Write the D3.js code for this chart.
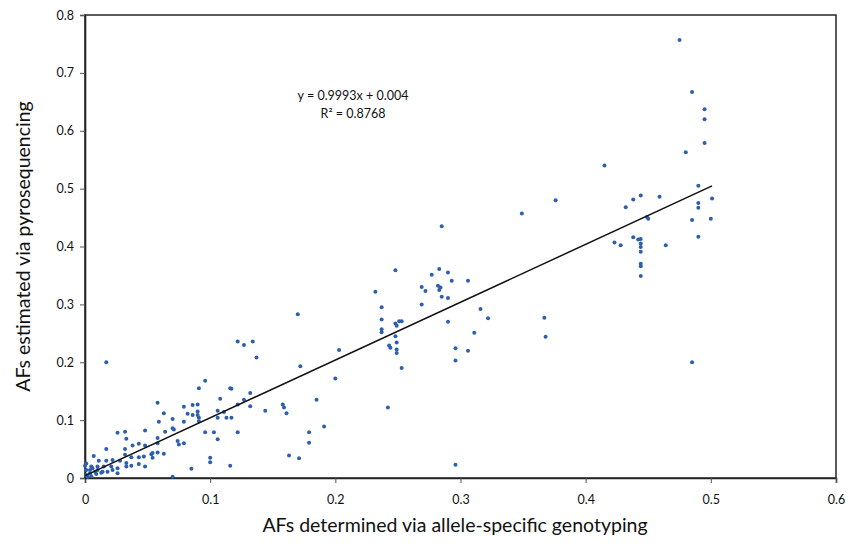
<!DOCTYPE html>
<html>
<head>
<meta charset="utf-8">
<script src="https://cdn.jsdelivr.net/npm/d3@7/dist/d3.min.js"></script>
<style>
  html, body { margin: 0; padding: 0; background: #fff; }
  svg { display: block; }
  text { font-family: Lato, "Open Sans", sans-serif; fill: #111; }
</style>
</head>
<body>
<svg id="chart" width="850" height="550"></svg>
<script>
// AFs determined via allele-specific genotyping (x)
const afGenotyping = [
  0.026,0.032,0.048,0.033,0.017,0.032,0.038,0.043,0.048,0.053,0.007,0.032,0.037,0.043,0.047,
  0.011,0.017,0.022,0.028,0.033,0.037,0.043,0.048,0.000,0.005,0.010,0.015,0.021,0.026,0.033,
  0.001,0.004,0.006,0.010,0.014,0.018,0.022,0.026,0.001,0.004,0.008,0.005,0.002,0.009,0.013,
  0.001,0.017,
  0.058,0.063,0.096,0.091,0.108,0.116,0.079,0.086,0.090,0.082,0.086,0.090,0.090,0.091,0.091,
  0.070,0.059,0.079,0.106,0.111,0.106,0.113,0.117,0.064,0.070,0.071,0.096,0.103,0.106,0.058,
  0.058,0.074,0.075,0.079,0.054,0.054,0.058,0.063,0.100,0.100,0.085,0.116,0.070,0.122,
  0.122,0.127,0.134,0.137,0.203,0.172,0.117,0.132,0.200,0.127,0.122,0.132,0.144,0.158,0.159,
  0.161,0.185,0.191,0.179,0.179,0.163,0.171,
  0.170,0.248,0.232,0.237,0.237,0.237,0.237,0.248,0.251,0.253,0.249,0.248,0.249,0.243,0.244,
  0.249,0.249,0.253,0.242,0.269,0.272,0.269,0.277,0.283,0.290,0.293,0.282,0.284,0.283,0.285,
  0.290,0.306,0.290,0.316,0.322,0.311,0.296,0.306,0.296,0.296,0.285,0.349,0.376,0.367,0.368,
  0.415,
  0.423,0.428,0.432,0.438,0.444,0.438,0.442,0.444,0.444,0.444,0.444,0.444,0.444,0.444,0.449,
  0.450,0.459,0.464,0.475,0.480,0.485,0.495,0.495,0.495,0.490,0.501,0.490,0.490,0.485,0.500,
  0.490,0.485
];
// AFs estimated via pyrosequencing (y)
const afPyro = [
  0.078,0.080,0.082,0.068,0.050,0.050,0.056,0.059,0.056,0.041,0.038,0.040,0.036,0.036,0.037,
  0.030,0.030,0.031,0.030,0.026,0.021,0.024,0.020,0.021,0.020,0.020,0.020,0.020,0.017,0.020,
  0.014,0.014,0.017,0.014,0.011,0.011,0.014,0.008,0.005,0.008,0.011,0.003,0.002,0.007,0.009,
  0.025,0.200,
  0.130,0.112,0.168,0.155,0.137,0.155,0.123,0.126,0.127,0.111,0.109,0.115,0.109,0.104,0.098,
  0.102,0.097,0.097,0.116,0.114,0.104,0.104,0.104,0.080,0.086,0.084,0.079,0.079,0.067,0.069,
  0.060,0.064,0.058,0.060,0.043,0.035,0.044,0.042,0.035,0.027,0.016,0.021,0.002,0.079,
  0.236,0.230,0.236,0.208,0.221,0.193,0.154,0.147,0.172,0.135,0.127,0.124,0.116,0.127,0.122,
  0.112,0.135,0.089,0.079,0.061,0.039,0.034,
  0.283,0.359,0.322,0.295,0.274,0.257,0.252,0.267,0.271,0.271,0.263,0.245,0.234,0.229,0.225,
  0.222,0.216,0.190,0.122,0.330,0.323,0.300,0.351,0.361,0.355,0.341,0.332,0.329,0.325,0.313,
  0.311,0.341,0.270,0.292,0.276,0.251,0.224,0.220,0.203,0.023,0.435,0.457,0.480,0.277,0.244,
  0.540,
  0.407,0.402,0.468,0.481,0.488,0.416,0.412,0.413,0.405,0.399,0.391,0.370,0.366,0.349,0.451,
  0.448,0.486,0.402,0.757,0.563,0.667,0.637,0.620,0.579,0.505,0.483,0.475,0.467,0.446,0.448,
  0.417,0.200
];
const xTicks = [0, 0.1, 0.2, 0.3, 0.4, 0.5, 0.6];
const yTicks = [0, 0.1, 0.2, 0.3, 0.4, 0.5, 0.6, 0.7, 0.8];
const trendSlope = 0.9993;
const trendIntercept = 0.004;
const equationLines = ["y = 0.9993x + 0.004", "R² = 0.8768"];
const xTitle = "AFs determined via allele-specific genotyping";
const yTitle = "AFs estimated via pyrosequencing";

const svg = d3.select("#chart");
const pLeft = 85, pRight = 836, pTop = 15, pBottom = 478;

const x = d3.scaleLinear().domain([0, 0.6]).range([pLeft, pRight]);
const y = d3.scaleLinear().domain([0, 0.8]).range([pBottom, pTop]);

// frame
svg.append("rect")
  .attr("x", pLeft).attr("y", pTop)
  .attr("width", pRight - pLeft).attr("height", pBottom - pTop)
  .attr("fill", "none").attr("stroke", "#333").attr("stroke-width", 1.6);

const fmt = d => d === 0 ? "0" : d3.format(".1f")(d);

const xAxis = svg.append("g")
  .attr("transform", `translate(0,${pBottom})`)
  .call(d3.axisBottom(x).tickValues(xTicks).tickFormat(fmt).tickSize(5).tickPadding(12));
const yAxis = svg.append("g")
  .attr("transform", `translate(${pLeft},0)`)
  .call(d3.axisLeft(y).tickValues(yTicks).tickFormat(fmt).tickSize(5).tickPadding(6));

[xAxis, yAxis].forEach(g => {
  g.select(".domain").attr("stroke", "#222").attr("stroke-width", 1.6);
  g.selectAll(".tick line").attr("stroke", "#555");
  g.selectAll(".tick text").attr("font-family", "Lato, sans-serif").attr("font-size", 12.5).attr("fill", "#222");
});

// points
svg.append("g").selectAll("circle")
  .data(afGenotyping.map((v, i) => [v, afPyro[i]]))
  .join("circle")
  .attr("cx", d => x(d[0]))
  .attr("cy", d => y(d[1]))
  .attr("r", 2)
  .attr("fill", "#2d5fae");

// trendline
const xMax = d3.max(afGenotyping);
const xMin = d3.min(afGenotyping);
svg.append("line")
  .attr("x1", x(xMin)).attr("y1", y(trendSlope * xMin + trendIntercept))
  .attr("x2", x(xMax)).attr("y2", y(trendSlope * xMax + trendIntercept))
  .attr("stroke", "#111").attr("stroke-width", 1.5);

// equation
svg.append("g").selectAll("text")
  .data(equationLines)
  .join("text")
  .attr("x", 353)
  .attr("y", (d, i) => 100 + i * 18)
  .attr("text-anchor", "middle")
  .attr("font-size", 12.5)
  .text(d => d);

// axis titles
svg.append("text")
  .attr("x", 455).attr("y", 532)
  .attr("text-anchor", "middle")
  .attr("font-size", 19.5)
  .text(xTitle);
svg.append("text")
  .attr("transform", `translate(30,${(pTop + pBottom) / 2}) rotate(-90)`)
  .attr("text-anchor", "middle")
  .attr("font-size", 19.5)
  .text(yTitle);
</script>
</body>
</html>
